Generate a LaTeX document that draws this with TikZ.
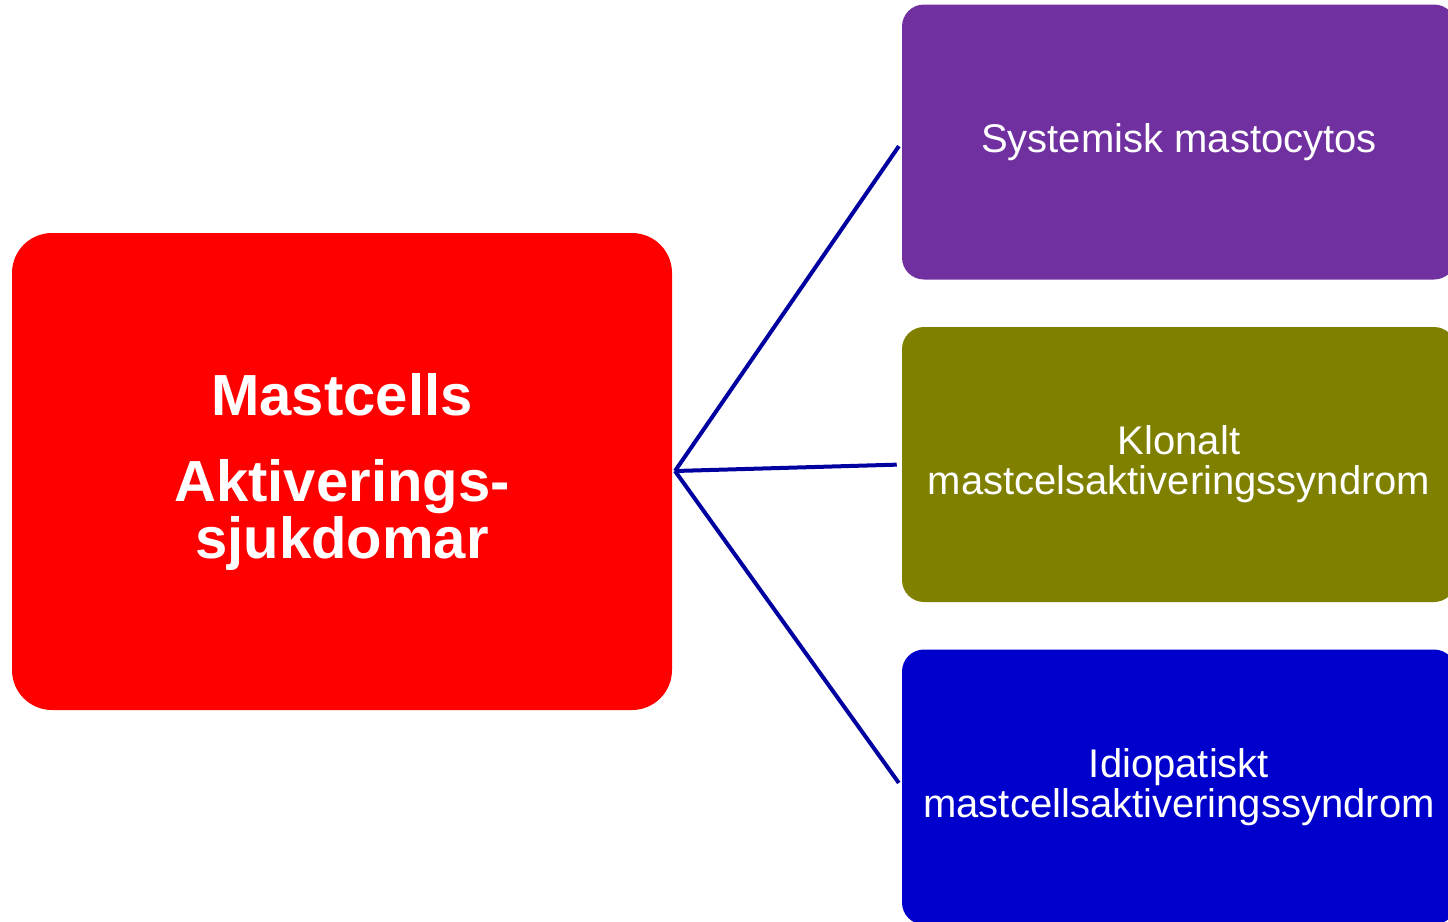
\documentclass[tikz,border=0pt]{standalone}
\usepackage{fontspec}
\setmainfont{Liberation Sans}
\definecolor{redbox}{RGB}{255,0,0}
\definecolor{purplebox}{RGB}{112,48,160}
\definecolor{olivebox}{RGB}{128,128,0}
\definecolor{bluebox}{RGB}{0,0,204}
\definecolor{linkcol}{RGB}{0,0,160}
\tikzset{
  mainbox/.style={rectangle, rounded corners=30pt, fill=redbox, draw=none,
    minimum width=495pt, minimum height=357.75pt, text=white, align=center,
    font=\fontsize{43.5pt}{42.75pt}\selectfont\bfseries},
  subbox/.style={rectangle, rounded corners=16.5pt, draw=none,
    minimum width=415.5pt, minimum height=206.25pt, text=white, align=center,
    font=\fontsize{30pt}{30pt}\selectfont},
  link/.style={draw=linkcol, line width=3pt, shorten >=3.75pt}
}
\begin{document}
\begin{tikzpicture}[x=0.75pt,y=-0.75pt]
\useasboundingbox (0,0) rectangle (1448,921);
\node[mainbox] (main) at (342,471.5) {Mastcells\\[21.75pt]Aktiverings-\\sjukdomar};
\node[subbox, fill=purplebox] (sm) at (1179,142) {Systemisk mastocytos};
\node[subbox, fill=olivebox] (kl) at (1179,464.5) {Klonalt\\mastcelsaktiveringssyndrom};
\node[subbox, fill=bluebox] (id) at (1179,787) {Idiopatiskt\\mastcellsaktiveringssyndrom};
\coordinate (hub) at (675,471);
\draw[link] (hub) -- (sm.west);
\draw[link] (hub) -- (kl.west);
\draw[link] (hub) -- (id.west);
\end{tikzpicture}
\end{document}
